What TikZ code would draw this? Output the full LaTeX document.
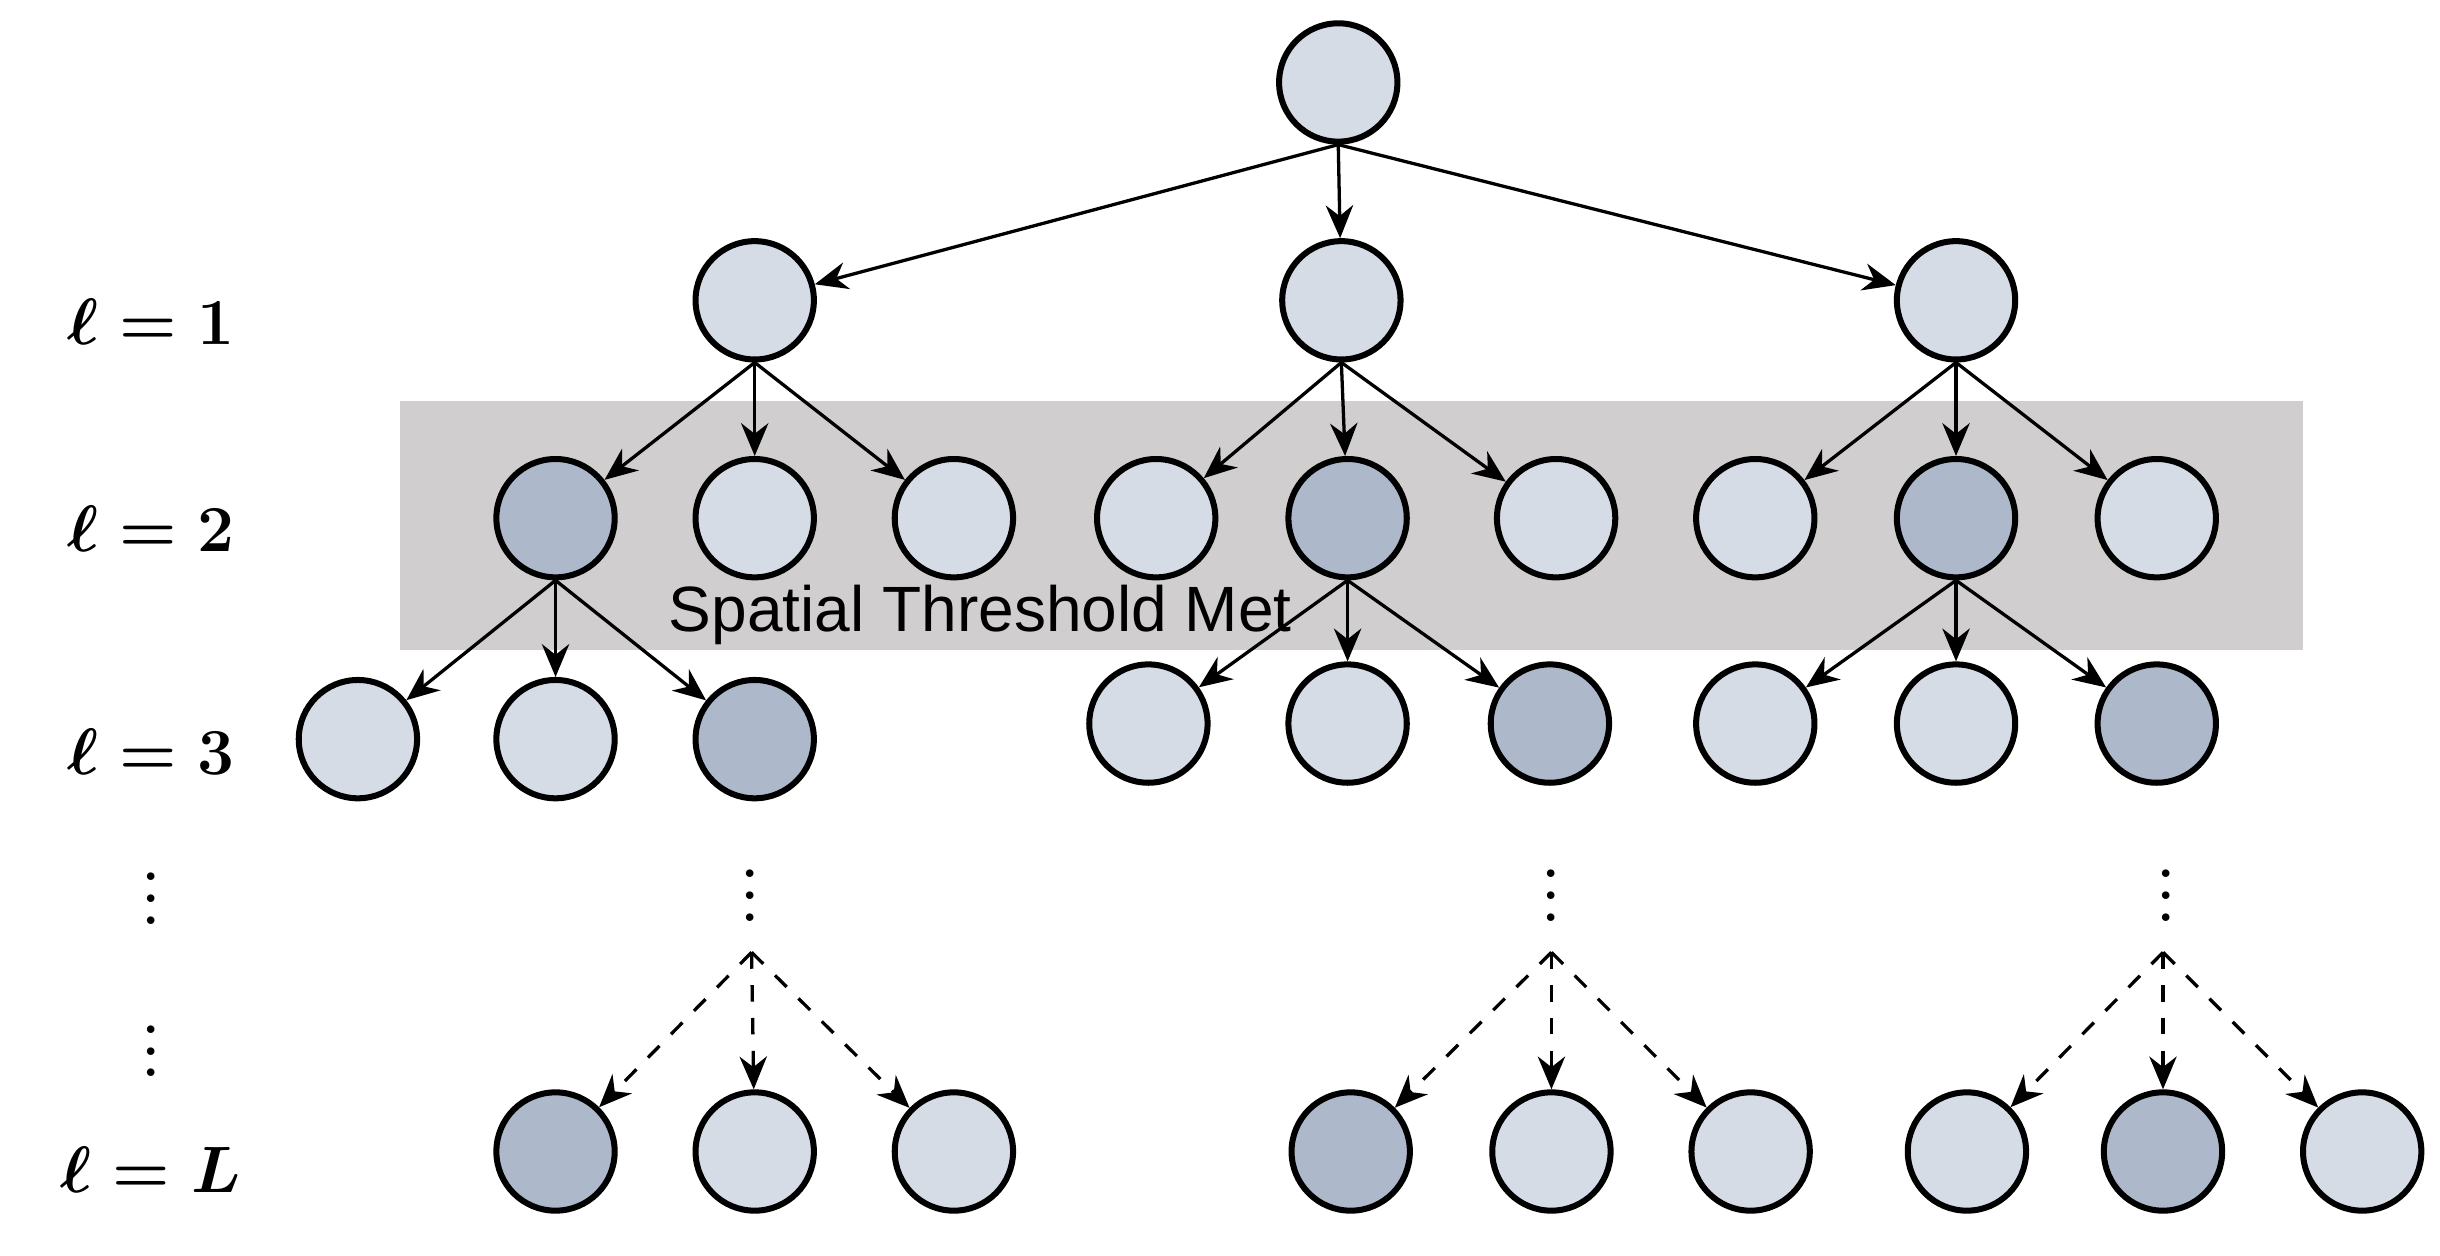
\documentclass[tikz,border=0pt]{standalone}
\usepackage{fontspec}
\newfontfamily\sansf{Liberation Sans}
\usetikzlibrary{arrows.meta}
\definecolor{lightn}{HTML}{D6DCE5}
\definecolor{darkn}{HTML}{ADB9CA}
\definecolor{band}{HTML}{D0CECE}
\begin{document}
\begin{tikzpicture}[x=0.01cm,y=-0.01cm,
  nd/.style={circle,draw=black,line width=1.1pt,fill=lightn,minimum size=0.76cm,inner sep=0pt},
  dk/.style={nd,fill=darkn},
  ed/.style={line width=0.6pt,-{Stealth[length=6pt,width=5pt]}},
  de/.style={ed,dashed},
  vd/.style={font=\Large,inner sep=0pt},
  lab/.style={font=\fontsize{13}{15}\selectfont\boldmath}]
\useasboundingbox (0,0) rectangle (1568,807);
\fill[band] (257,258) rectangle (1480,418);
\node[nd] (r) at (860,53) {};
\node[nd] (a) at (485,193) {};
\node[nd] (b) at (862,193) {};
\node[nd] (c) at (1257,193) {};
\node[dk] (a1) at (357,333) {};
\node[nd] (a2) at (485,333) {};
\node[nd] (a3) at (613,333) {};
\node[nd] (b1) at (743,333) {};
\node[dk] (b2) at (866,333) {};
\node[nd] (b3) at (1000,333) {};
\node[nd] (c1) at (1128,333) {};
\node[dk] (c2) at (1257,333) {};
\node[nd] (c3) at (1386,333) {};
\node[nd] (a11) at (230,475) {};
\node[nd] (a12) at (357,475) {};
\node[dk] (a13) at (485,475) {};
\node[nd] (b21) at (738,465) {};
\node[nd] (b22) at (866,465) {};
\node[dk] (b23) at (996,465) {};
\node[nd] (c21) at (1128,465) {};
\node[nd] (c22) at (1257,465) {};
\node[dk] (c23) at (1386,465) {};
\node[dk] (x1) at (357,740) {};
\node[nd] (x2) at (485,740) {};
\node[nd] (x3) at (613,740) {};
\node[dk] (y1) at (868,740) {};
\node[nd] (y2) at (997,740) {};
\node[nd] (y3) at (1125,740) {};
\node[nd] (z1) at (1264,740) {};
\node[dk] (z2) at (1390,740) {};
\node[nd] (z3) at (1518,740) {};
\foreach \p/\k in {r/a,r/b,r/c,a/a1,a/a2,a/a3,b/b1,b/b2,b/b3,c/c1,c/c2,c/c3,a1/a11,a1/a12,a1/a13,b2/b21,b2/b22,b2/b23,c2/c21,c2/c22,c2/c23}
  \draw[ed] (\p.south) -- (\k);
\coordinate (dx) at (483,612);
\coordinate (dy) at (997,612);
\coordinate (dz) at (1390,612);
\foreach \p/\k in {dx/x1,dx/x2,dx/x3,dy/y1,dy/y2,dy/y3,dz/z1,dz/z2,dz/z3}
  \draw[de] (\p) -- (\k);
\node[font=\sansf\fontsize{11.7}{14}\selectfont] (t) at (630,395) {Spatial Threshold Met};
\node[vd] (v1) at (482,565) {$\vdots$};
\node[vd] (v2) at (997,565) {$\vdots$};
\node[vd] (v3) at (1392,565) {$\vdots$};
\node[vd] (v4) at (97,567) {$\vdots$};
\node[vd] (v5) at (97,665) {$\vdots$};
\node[lab] (l1) at (97,207) {$\ell = 1$};
\node[lab] (l2) at (97,340) {$\ell = 2$};
\node[lab] (l3) at (97,483) {$\ell = 3$};
\node[lab] (lL) at (97,752) {$\ell = L$};
\end{tikzpicture}
\end{document}
